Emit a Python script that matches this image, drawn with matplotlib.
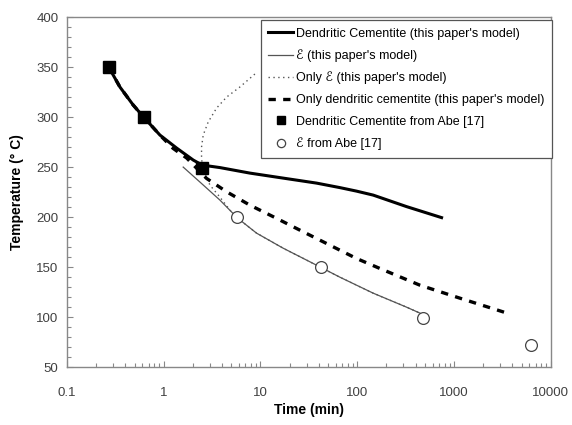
import matplotlib
matplotlib.use("Agg")
import matplotlib.pyplot as plt
from matplotlib.ticker import MultipleLocator, LogLocator, FixedLocator, NullFormatter

plt.rcParams['font.family'] = ['Liberation Sans', 'DejaVu Sans']

# Dendritic cementite (this paper's model)
dc_t = [0.27, 0.353, 0.484, 0.62, 0.914, 1.36, 2.02, 2.5, 3.81, 7.76, 17.1, 37.9, 66, 98, 146, 323, 743]
dc_T = [350, 330, 312, 300, 282, 269, 257, 252, 249.5, 244, 239, 234, 229.5, 226, 222, 210.5, 199.5]

# epsilon (this paper's model)
eps_t = [1.59, 2.37, 3.81, 5.8, 9.1, 17.1, 37.9, 66, 146, 323, 470]
eps_T = [250, 235, 217, 199, 184, 169, 152, 140, 124, 110, 103]

# Only epsilon (this paper's model)
oe_t = [8.75, 6.12, 4.47, 3.52, 2.88, 2.56, 2.46, 2.46, 2.5, 3.0, 3.81, 4.83, 5.8, 9.1, 17.1, 37.9, 66, 146, 323, 470]
oe_T = [343, 330, 320, 309, 295, 282, 270, 260, 252, 232, 220, 207, 199, 184, 169, 152, 140, 124, 110, 103]

# Only dendritic cementite (this paper's model)
od_t = [0.27, 0.353, 0.484, 0.62, 0.914, 1.25, 1.73, 2.77, 4.47, 7.76, 14.7, 25.5, 48, 98, 171, 443, 1148, 3620]
od_T = [350, 330, 312, 300, 282, 268.7, 259, 238.7, 225.3, 212, 198.7, 187, 173.7, 158.7, 148.7, 132, 119, 103.7]

# Abe [17] data
abe_dc_t = [0.27, 0.62, 2.5]
abe_dc_T = [350, 300, 249]
abe_eps_t = [5.7, 42, 480, 6300]
abe_eps_T = [200, 150, 99, 72]

fig = plt.figure(figsize=(5.72, 4.25), dpi=100)
ax = fig.add_axes([0.117, 0.136, 0.846, 0.824])

ax.plot(dc_t, dc_T, color='black', lw=2.2, label="Dendritic Cementite (this paper's model)", zorder=4)
ax.plot(eps_t, eps_T, color='#555555', lw=0.9, label="ℰ (this paper's model)", zorder=3)
ax.plot(oe_t, oe_T, color='#555555', lw=1.0, ls=(0, (1, 2.5)), label="Only ℰ (this paper's model)", zorder=3)
ax.plot(od_t, od_T, color='black', lw=2.4, ls=(0, (2.2, 2.2)), label="Only dendritic cementite (this paper's model)", zorder=3)
ax.plot(abe_dc_t, abe_dc_T, ls='none', marker='s', ms=8.5, mfc='black', mec='black',
        label="Dendritic Cementite from Abe [17]", zorder=5)
ax.plot(abe_eps_t, abe_eps_T, ls='none', marker='o', ms=8.5, mfc='white', mec='#444444', mew=0.9,
        label="ℰ from Abe [17]", zorder=5)

ax.set_xscale('log')
ax.set_xlim(0.1, 10000)
ax.set_ylim(50, 400)
ax.yaxis.set_major_locator(MultipleLocator(50))
ax.yaxis.set_minor_locator(MultipleLocator(10))
ax.xaxis.set_major_locator(FixedLocator([0.1, 1, 10, 100, 1000, 10000]))
ax.xaxis.set_minor_locator(LogLocator(base=10, subs=range(2, 10)))
ax.xaxis.set_minor_formatter(NullFormatter())
ax.set_xticklabels(['0.1', '1', '10', '100', '1000', '10000'])

spc = '#888888'
for s in ax.spines.values():
    s.set_color(spc)
    s.set_linewidth(1.0)
ax.tick_params(which='both', direction='in', colors=spc, labelcolor='#404040', labelsize=9.5)
ax.tick_params(which='major', length=4, width=0.8)
ax.tick_params(which='minor', length=3, width=0.8)
ax.tick_params(axis='x', pad=14)
ax.tick_params(axis='y', pad=6)

ax.set_xlabel('Time (min)', fontsize=10, fontweight='bold', labelpad=3)
ax.set_ylabel('Temperature (° C)', fontsize=10, fontweight='bold', labelpad=9)

leg = ax.legend(loc='upper right', bbox_to_anchor=(1.003, 0.991), borderaxespad=0, fontsize=9,
                frameon=True, fancybox=False, edgecolor='#555555', framealpha=1, handlelength=2.0,
                handletextpad=0.25, labelspacing=0.77, borderpad=0.6, markerscale=0.7)
leg.get_frame().set_linewidth(0.9)
leg.set_zorder(10)

fig.savefig('out.png', dpi=100)
